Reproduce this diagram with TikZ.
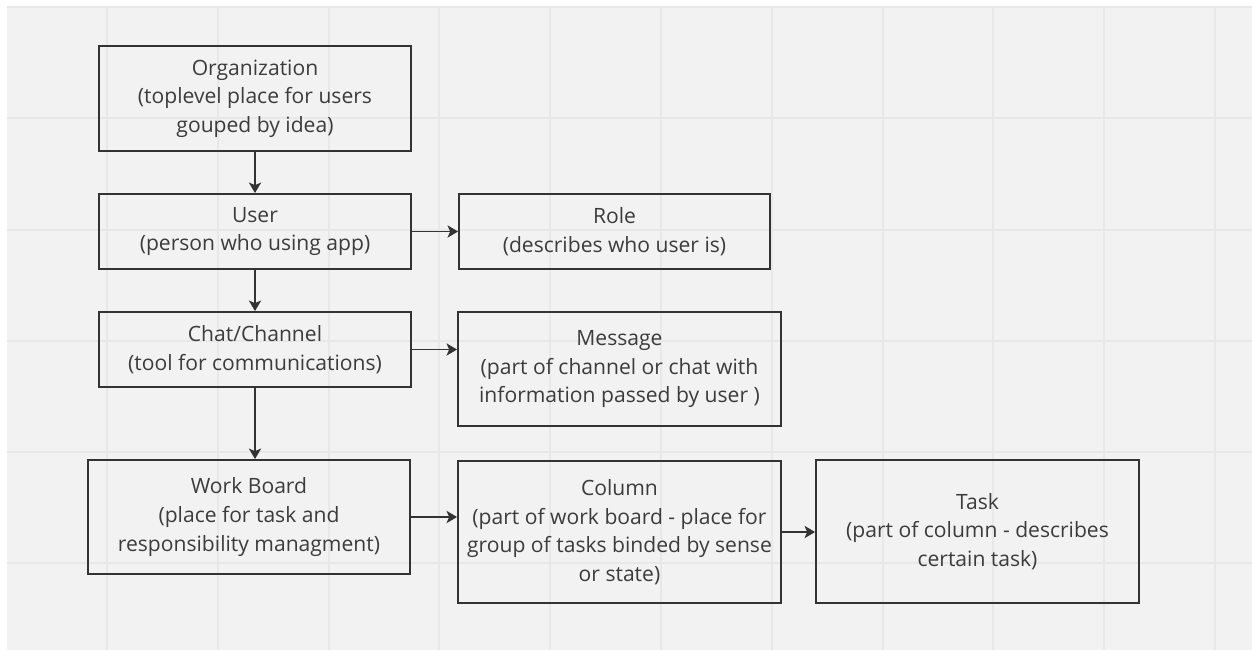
\documentclass[tikz,border=0pt]{standalone}
\usepackage{fontspec}
\setmainfont{Open Sans}
\usetikzlibrary{arrows.meta}

\definecolor{boardbg}{HTML}{F2F2F2}
\definecolor{gridgray}{HTML}{E8E8E8}
\definecolor{inkgray}{HTML}{333333}
\definecolor{textgray}{HTML}{3C3C3C}

\tikzset{
  entity/.style={draw=inkgray, line width=1.1pt, align=center, text=textgray,
    inner sep=0pt, font=\fontsize{12pt}{16.3pt}\selectfont},
  link/.style={draw=inkgray, line width=0.75pt,
    -{Stealth[length=6pt,width=7pt,inset=1.5pt]}},
  gridline/.style={draw=gridgray, line width=0.9pt},
}

\begin{document}
\begin{tikzpicture}[x=0.02cm, y=-0.02cm]
\useasboundingbox (0,0) rectangle (1252,650);
% board background:
\fill[white] (0,0) rectangle (1252,650);
\fill[boardbg] (7,6) rectangle (1252,650);
\foreach \gx in {107,218,329,439,550,661,772,883,993,1104,1215}
  \draw[gridline] (\gx,6) -- (\gx,650);
\foreach \gy in {7,118,230,341,452,563}
  \draw[gridline] (7,\gy) -- (1252,\gy);
% left column:
\node[entity, minimum width=6.24cm, minimum height=2.10cm] (org) at (255,98.5)
  {Organization\\(toplevel place for users\\gouped by idea)};
\node[entity, minimum width=6.24cm, minimum height=1.50cm] (user) at (255,231.5)
  {User\\(person who using app)};
\node[entity, minimum width=6.24cm, minimum height=1.50cm] (chat) at (255,349.5)
  {Chat/Channel\\(tool for communications)};
\node[entity, minimum width=6.44cm, minimum height=2.28cm] (board) at (249,517)
  {Work Board\\(place for task and\\responsibility managment)};
% right side:
\node[entity, minimum width=6.22cm, minimum height=1.50cm] (role) at (614.5,231.5)
  {Role\\(describes who user is)};
\node[entity, minimum width=6.46cm, minimum height=2.28cm] (message) at (619.5,369)
  {Message\\(part of channel or chat with\\information passed by user )};
\node[entity, minimum width=6.46cm, minimum height=2.84cm] (column) at (619.5,532)
  {Column\\(part of work board - place for\\group of tasks binded by sense\\or state)};
\node[entity, minimum width=6.46cm, minimum height=2.86cm] (task) at (977.5,531.5)
  {Task\\(part of column - describes\\certain task)};
% links:
\draw[link] (org) -- (user);
\draw[link] (user) -- (chat);
\draw[link] (chat.south) -- (chat.south |- board.north);
\draw[link] (user) -- (role);
\draw[link] (chat.east) -- (chat.east -| message.west);
\draw[link] (board.east) -- (board.east -| column.west);
\draw[link] (column.east) -- (column.east -| task.west);
\end{tikzpicture}
\end{document}
